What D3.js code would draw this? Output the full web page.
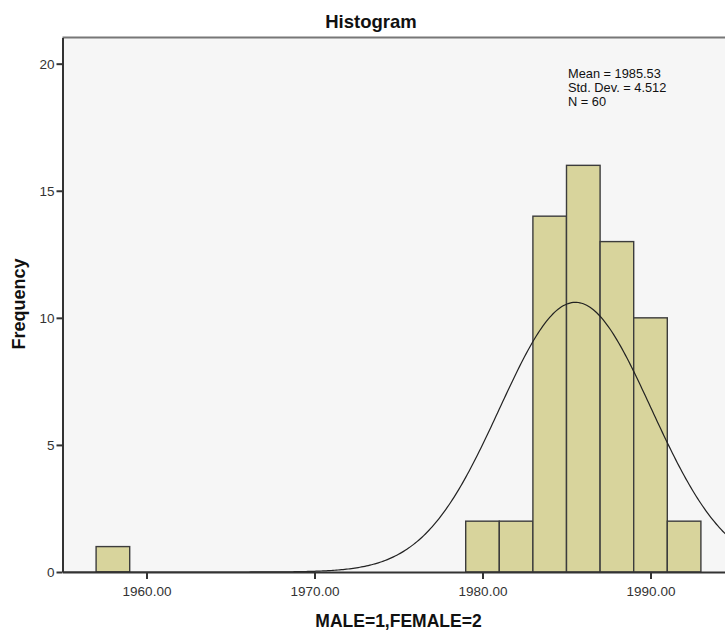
<!DOCTYPE html>
<html>
<head>
<meta charset="utf-8">
<script src="https://cdn.jsdelivr.net/npm/d3@7"></script>
<style>
	body { margin: 0; background: #fff; }
	text { font-family: "Liberation Sans", Arial, sans-serif; }
</style>
</head>
<body>
<script>
// histogram bins (left edge of each bin) and their frequencies
var binStarts = [1957, 1979, 1981, 1983, 1985, 1987, 1989, 1991];
var counts = [1, 2, 2, 14, 16, 13, 10, 2];
var binWidth = 2;

var xTicks = [1960, 1970, 1980, 1990];
var yTicks = [0, 5, 10, 15, 20];

// summary stats shown in the legend box
var mean = 1985.53;
var stdDev = 4.512;
var n = 60;
var statLines = ['Mean = 1985.53', 'Std. Dev. = 4.512', 'N = 60'];

var W = 725, H = 633;
var pLeft = 62.5, pRight = 734.5, pTop = 37.5, pBottom = 572;

var svg = d3.select('body')
	.append('svg')
	.attr('width', W)
	.attr('height', H);

var x = d3.scaleLinear().domain([1955, 1995]).range([pLeft, pRight]);
var y = d3.scaleLinear().domain([0, 21.03]).range([pBottom, pTop]);

svg.append('defs').append('clipPath')
	.attr('id', 'plot')
	.append('rect')
	.attr('x', pLeft).attr('y', pTop)
	.attr('width', pRight - pLeft).attr('height', pBottom - pTop);

// plot background
svg.append('rect')
	.attr('x', pLeft).attr('y', pTop)
	.attr('width', pRight - pLeft).attr('height', pBottom - pTop)
	.attr('fill', '#f6f6f6');

// frame top line
svg.append('line')
	.attr('x1', pLeft).attr('x2', pRight)
	.attr('y1', pTop).attr('y2', pTop)
	.attr('stroke', '#777')
	.attr('stroke-width', 2);

var bins = binStarts.map(function(s, i) { return {x0: s, x1: s + binWidth, count: counts[i]}; });

svg.append('g')
	.attr('clip-path', 'url(#plot)')
	.selectAll('rect.bar')
	.data(bins)
	.enter()
	.append('rect')
	.attr('class', 'bar')
	.attr('x', function(d) { return x(d.x0); })
	.attr('y', function(d) { return y(d.count); })
	.attr('width', function(d) { return x(d.x1) - x(d.x0); })
	.attr('height', function(d) { return y(0) - y(d.count); })
	.attr('fill', '#d8d49c')
	.attr('stroke', '#3c3c3c')
	.attr('stroke-width', 1.4);

// fitted normal curve, scaled to counts per bin
var curvePts = d3.range(1955, 1995.01, 0.1).map(function(v) {
	var z = (v - mean) / stdDev;
	return [v, n * binWidth * Math.exp(-0.5 * z * z) / (stdDev * Math.sqrt(2 * Math.PI))];
});

svg.append('path')
	.datum(curvePts)
	.attr('clip-path', 'url(#plot)')
	.attr('d', d3.line()
		.x(function(d) { return x(d[0]); })
		.y(function(d) { return y(d[1]); }))
	.attr('fill', 'none')
	.attr('stroke', '#222')
	.attr('stroke-width', 1.2);

// axes
var xAxis = svg.append('g')
	.attr('transform', 'translate(0,' + pBottom + ')')
	.call(d3.axisBottom(x).tickValues(xTicks).tickSize(7).tickSizeOuter(0)
		.tickFormat(function(d) { return d.toFixed(2); }));

var yAxis = svg.append('g')
	.attr('transform', 'translate(' + pLeft + ',0)')
	.call(d3.axisLeft(y).tickValues(yTicks).tickSize(6).tickSizeOuter(0));

[xAxis, yAxis].forEach(function(g) {
	g.select('.domain').attr('stroke', '#333').attr('stroke-width', 2);
	g.selectAll('.tick line').attr('stroke', '#333').attr('stroke-width', 2);
	g.selectAll('.tick text')
		.attr('fill', '#333')
		.style('font-size', '13.5px')
		.style('font-family', '"Liberation Sans", Arial, sans-serif');
});
xAxis.selectAll('.tick text').attr('dy', '1.05em');
yAxis.selectAll('.tick text').attr('x', -8);

// titles
svg.append('text')
	.attr('x', 371).attr('y', 28)
	.attr('text-anchor', 'middle')
	.style('font-size', '18.5px')
	.style('font-weight', 'bold')
	.attr('fill', '#111')
	.text('Histogram');

svg.append('text')
	.attr('x', (pLeft + pRight) / 2).attr('y', 627)
	.attr('text-anchor', 'middle')
	.style('font-size', '17.5px')
	.style('font-weight', 'bold')
	.attr('fill', '#111')
	.text('MALE=1,FEMALE=2');

svg.append('text')
	.attr('transform', 'translate(25,304) rotate(-90)')
	.attr('text-anchor', 'middle')
	.style('font-size', '18px')
	.style('font-weight', 'bold')
	.attr('fill', '#111')
	.text('Frequency');

svg.selectAll('text.stat')
	.data(statLines)
	.enter()
	.append('text')
	.attr('class', 'stat')
	.attr('x', 568)
	.attr('y', function(d, i) { return 78 + i * 14; })
	.style('font-size', '12.8px')
	.attr('fill', '#111')
	.text(function(d) { return d; });
</script>
</body>
</html>
